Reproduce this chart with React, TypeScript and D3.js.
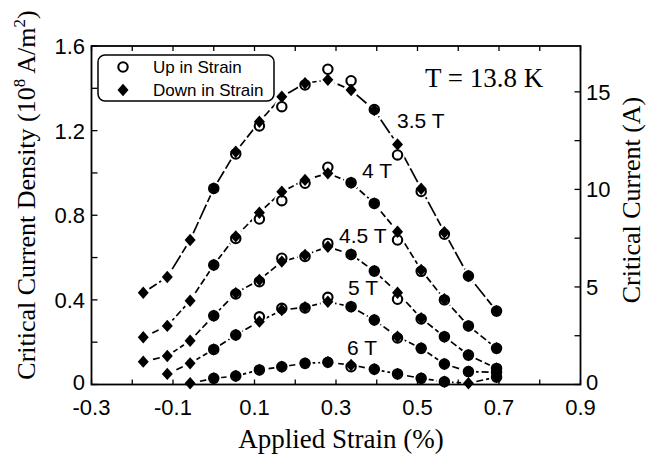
import React from "react";
import * as d3 from "d3";

const strain = [-0.173, -0.114, -0.058, 0.0, 0.054, 0.112, 0.167, 0.224, 0.28, 0.337, 0.394, 0.451, 0.509, 0.566, 0.625, 0.694];

const fields = ["3.5 T", "4 T", "4.5 T", "5 T", "6 T"];

const up35 = [null, null, null, 0.927, 1.09, 1.222, 1.313, 1.416, 1.49, 1.436, 1.30, 1.085, 0.912, 0.71, 0.513, 0.347];
const down35 = [0.434, 0.508, 0.683, 0.927, 1.10, 1.242, 1.36, 1.424, 1.44, 1.392, 1.297, 1.135, 0.925, 0.72, 0.513, 0.347];

const up4 = [null, null, null, 0.565, 0.69, 0.782, 0.869, 0.951, 1.027, 0.954, 0.856, 0.683, 0.535, 0.40, 0.277, 0.171];
const down4 = [0.223, 0.277, 0.396, 0.565, 0.70, 0.812, 0.911, 0.967, 0.998, 0.954, 0.856, 0.722, 0.541, 0.403, 0.277, 0.171];

const up45 = [null, null, null, 0.325, 0.428, 0.486, 0.597, 0.605, 0.667, 0.615, 0.536, 0.403, 0.31, 0.226, 0.139, 0.076];
const down45 = [0.108, 0.135, 0.207, 0.325, 0.432, 0.494, 0.581, 0.612, 0.651, 0.615, 0.536, 0.434, 0.313, 0.226, 0.139, 0.076];

const up5 = [null, null, null, 0.166, 0.234, 0.32, 0.36, 0.362, 0.412, 0.368, 0.305, 0.22, 0.171, 0.097, 0.061, 0.058];
const down5 = [null, 0.05, 0.1, 0.166, 0.234, 0.297, 0.352, 0.365, 0.391, 0.368, 0.305, 0.226, 0.171, 0.097, 0.061, 0.058];

const up6 = [null, null, null, 0.029, 0.04, 0.069, 0.084, 0.1, 0.105, 0.084, 0.072, 0.05, 0.029, 0.013, null, 0.035];
const down6 = [null, null, 0.006, 0.029, 0.04, 0.069, 0.084, 0.1, 0.105, 0.092, 0.072, 0.05, 0.029, 0.013, 0.006, 0.035];

const upSeries = [up35, up4, up45, up5, up6];
const downSeries = [down35, down4, down45, down5, down6];

const xTickLabels = [-0.3, -0.1, 0.1, 0.3, 0.5, 0.7, 0.9];
const yTickLabels = [0, 0.4, 0.8, 1.2, 1.6];
const y2TickLabels = [0, 5, 10, 15];
const y2Max = 17.35;

const W = 653;
const H = 458;
const L = 91.5, R = 580.5, T = 46, B = 384.5;

const SANS = "'Liberation Sans', Arial, Helvetica, sans-serif";
const SERIF = "'Liberation Serif', 'Times New Roman', Times, serif";

const x = d3.scaleLinear().domain([-0.3, 0.9]).range([L, R]);
const y = d3.scaleLinear().domain([0, 1.6]).range([B, T]);
const y2 = d3.scaleLinear().domain([0, y2Max]).range([B, T]);

const labelPos: [number, number][] = [
  [397, 128],
  [362, 178],
  [339, 243],
  [348, 295],
  [347, 355],
];

function diamondPath(cx: number, cy: number, hw = 5.5, hh = 6.2) {
  return `M${cx},${cy - hh}L${cx + hw},${cy}L${cx},${cy + hh}L${cx - hw},${cy}Z`;
}

export default function App() {
  const line = d3
    .line<[number, number | null]>()
    .defined((d) => d[1] !== null)
    .x((d) => x(d[0]))
    .y((d) => y(d[1] as number));

  const xMinor = d3.range(-0.3, 0.9001, 0.1).map((v) => +v.toFixed(2));
  const yMinor = d3.range(0, 1.6001, 0.2).map((v) => +v.toFixed(2));
  const y2Minor = d3.range(0, y2Max, 2.5);

  const pts: { s: number; v: number; type: "up" | "down" }[] = [];
  fields.forEach((_, i) => {
    strain.forEach((s, j) => {
      const u = upSeries[i][j];
      const dn = downSeries[i][j];
      if (u !== null) pts.push({ s, v: u, type: "up" });
      if (dn !== null) pts.push({ s, v: dn, type: "down" });
    });
  });

  return (
    <svg width={W} height={H} style={{ position: "absolute", left: 0, top: 0, background: "#fff" }}>
      <rect x={0} y={0} width={W} height={H} fill="#fff" />
      {/* curves */}
      {fields.map((f, i) => {
        const data = strain.map((s, j) => [s, downSeries[i][j] ?? upSeries[i][j]] as [number, number | null]);
        return (
          <path
            key={f}
            d={line(data) || ""}
            fill="none"
            stroke="#000"
            strokeWidth={1.7}
            strokeDasharray={i === 0 ? "16,3" : "7,3"}
          />
        );
      })}
      {/* halos */}
      {pts.map((p, k) => (
        <circle key={"h" + k} cx={x(p.s)} cy={y(p.v)} r={7.5} fill="#fff" />
      ))}
      {/* up markers */}
      {pts.filter((p) => p.type === "up").map((p, k) => (
        <circle key={"u" + k} cx={x(p.s)} cy={y(p.v)} r={4.7} fill="#fff" stroke="#000" strokeWidth={2.1} />
      ))}
      {/* down markers */}
      {pts.filter((p) => p.type === "down").map((p, k) => (
        <path key={"d" + k} d={diamondPath(x(p.s), y(p.v))} fill="#000" />
      ))}
      {/* curve labels */}
      {fields.map((f, i) => (
        <text key={"l" + f} x={labelPos[i][0]} y={labelPos[i][1]} fontFamily={SANS} fontSize={21}>
          {f}
        </text>
      ))}
      {/* frame */}
      <rect x={L} y={T} width={R - L} height={B - T} fill="none" stroke="#000" strokeWidth={1.8} />
      {/* ticks */}
      {xMinor.map((v) => (
        <g key={"xt" + v}>
          <line x1={x(v)} x2={x(v)} y1={B} y2={B - 5} stroke="#000" strokeWidth={1.3} />
          <line x1={x(v)} x2={x(v)} y1={T} y2={T + 5} stroke="#000" strokeWidth={1.3} />
        </g>
      ))}
      {yMinor.map((v) => (
        <line key={"yt" + v} x1={L} x2={L + 6} y1={y(v)} y2={y(v)} stroke="#000" strokeWidth={1.3} />
      ))}
      {y2Minor.map((v) => (
        <line key={"y2t" + v} x1={R} x2={R - 6} y1={y2(v)} y2={y2(v)} stroke="#000" strokeWidth={1.3} />
      ))}
      {/* tick labels */}
      {xTickLabels.map((v) => (
        <text key={"xl" + v} x={x(v)} y={414.5} textAnchor="middle" fontFamily={SANS} fontSize={22}>
          {v.toFixed(1)}
        </text>
      ))}
      {yTickLabels.map((v) => (
        <text key={"yl" + v} x={85} y={v === 0 ? y(v) + 5 : y(v) + 8} textAnchor="end" fontFamily={SANS} fontSize={22}>
          {v === 0 ? "0" : v.toFixed(1)}
        </text>
      ))}
      {y2TickLabels.map((v) => (
        <text key={"y2l" + v} x={586} y={v === 0 ? y2(v) + 5 : y2(v) + 8} textAnchor="start" fontFamily={SANS} fontSize={22}>
          {v}
        </text>
      ))}
      {/* axis titles */}
      <text x={341} y={448} textAnchor="middle" fontFamily={SERIF} fontSize={27}>
        Applied Strain (%)
      </text>
      <text transform="translate(35,195) rotate(-90)" textAnchor="middle" fontFamily={SERIF} fontSize={26}>
        Critical Current Density (10
        <tspan dy={-10} fontSize={17}>8</tspan>
        <tspan dy={10}> A/m</tspan>
        <tspan dy={-10} fontSize={17}>2</tspan>
        <tspan dy={10}>)</tspan>
      </text>
      <text transform="translate(640,200) rotate(-90)" textAnchor="middle" fontFamily={SERIF} fontSize={26}>
        Critical Current (A)
      </text>
      <text x={425} y={87} fontFamily={SERIF} fontSize={27}>
        T = 13.8 K
      </text>
      {/* legend */}
      <rect x={98} y={55} width={176} height={46} rx={7} fill="#fff" stroke="#000" strokeWidth={1.5} />
      <circle cx={123} cy={67} r={4.7} fill="#fff" stroke="#000" strokeWidth={2.1} />
      <path d={diamondPath(123, 90)} fill="#000" />
      <text x={153} y={73} fontFamily={SANS} fontSize={17}>
        Up in Strain
      </text>
      <text x={153} y={96} fontFamily={SANS} fontSize={17}>
        Down in Strain
      </text>
    </svg>
  );
}
